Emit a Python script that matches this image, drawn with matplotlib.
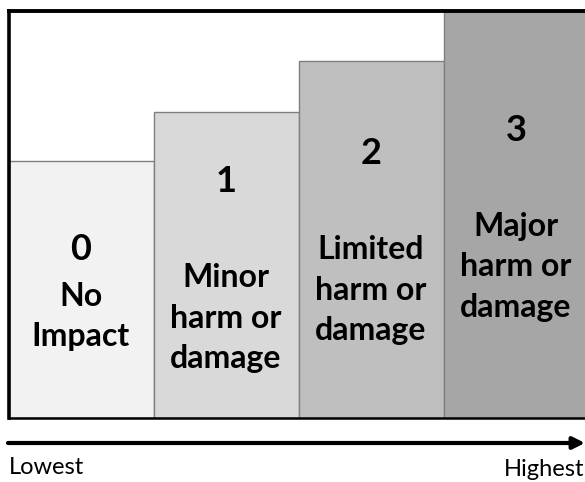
import matplotlib.pyplot as plt

# impact levels, lowest to highest
levels = ['0', '1', '2', '3']
labels = ['No\nImpact', 'Minor\nharm or\ndamage', 'Limited\nharm or\ndamage', 'Major\nharm or\ndamage']
heights = [5.14, 6.12, 7.14, 8.14]
colors = ['#f2f2f2', '#d9d9d9', '#bfbfbf', '#a6a6a6']

# where the text sits inside each bar (data units)
num_y = [3.36, 4.74, 5.28, 5.76]
lab_y = [2.03, 2.0, 2.56, 3.02]

plt.rcParams['font.family'] = ['Lato', 'DejaVu Sans']

fig = plt.figure(figsize=(5.85, 4.82), dpi=100)
W, H = 585, 482
ax = fig.add_axes([8.5 / W, (H - 418) / H, 580 / W, 407 / H])

x = range(len(levels))
ax.bar(x, heights, width=1.0, color=colors, edgecolor='#7f7f7f', linewidth=1.0)

for i in x:
    ax.text(i, num_y[i], levels[i], ha='center', va='center',
            fontsize=26, fontweight='bold')
    ax.text(i, lab_y[i], labels[i], ha='center', va='center',
            fontsize=23, fontweight='bold', linespacing=1.47)

ax.set_xlim(-0.5, 3.5)
ax.set_ylim(0, 8.14)
ax.set_xticks([])
ax.set_yticks([])
ax.spines['right'].set_visible(False)
ax.spines['left'].set_linewidth(2.6)
ax.spines['top'].set_linewidth(2.8)
ax.spines['bottom'].set_linewidth(1.8)
for s in ax.spines.values():
    s.set_color('black')

# direction arrow under the chart
ax.annotate('', xy=(1.0, (H - 443) / H), xytext=(8 / W, (H - 443) / H),
            xycoords='figure fraction', textcoords='figure fraction',
            arrowprops=dict(arrowstyle='-|>,head_length=0.7,head_width=0.35',
                            color='black', lw=3, shrinkA=0, shrinkB=0))

fig.text(9 / W, (H - 467) / H, 'Lowest', ha='left', va='center', fontsize=17)
fig.text(584 / W, (H - 470) / H, 'Highest', ha='right', va='center', fontsize=17)

fig.savefig('out.png', dpi=100)
